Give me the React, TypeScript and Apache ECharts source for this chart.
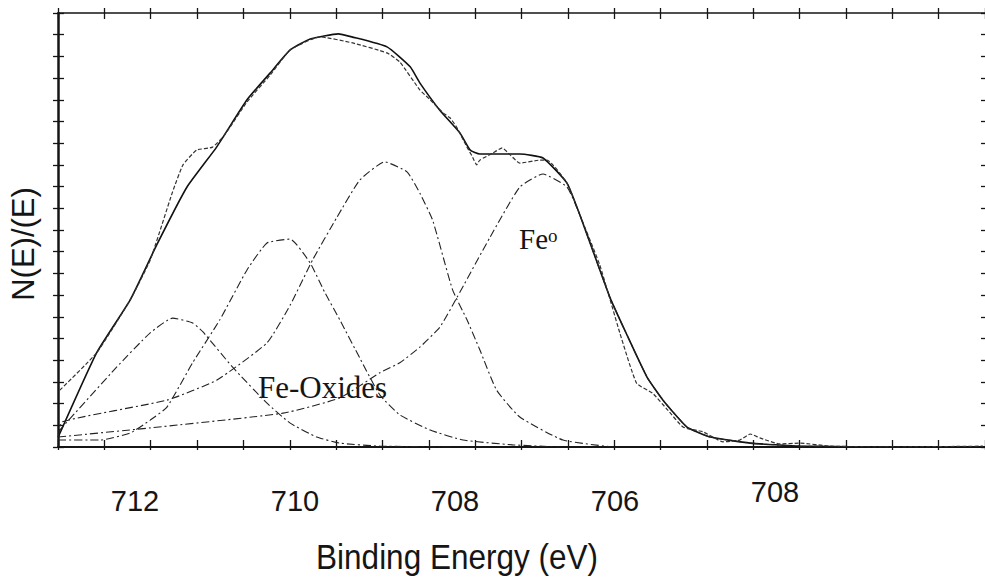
import React, { useEffect, useRef } from 'react';
import * as echarts from 'echarts';

// Axis tick labels (binding energy, eV) as printed on the original figure
const tickValues = [712, 710, 708, 706, 704];
const tickLabels = ['712', '710', '708', '706', '708'];

// Envelope (fitted sum) [eV, intensity]
const fitCurve: [number, number][] = [
  [712.96, 2.3], [712.48, 21.7], [712.06, 33.9], [711.73, 46.5], [711.35, 59.9],
  [710.98, 69.1], [710.6, 80.0], [710.31, 86.2], [710.06, 91.5], [709.81, 94.0],
  [709.46, 95.2], [709.29, 94.5], [708.85, 92.2], [708.56, 87.6], [708.44, 83.9],
  [708.19, 77.6], [707.94, 72.4], [707.81, 68.4], [707.69, 67.5], [707.19, 67.5],
  [706.9, 66.6], [706.6, 60.8], [706.44, 53.5], [706.28, 45.4], [706.06, 34.3],
  [705.85, 25.8], [705.6, 16.1], [705.4, 10.8], [705.1, 4.6], [704.81, 2.3],
  [704.31, 0.9], [703.69, 0.2], [702.44, 0], [701.4, 0],
];

// Measured spectrum
const measured: [number, number][] = [
  [712.94, 13.1], [712.48, 21.7], [712.06, 33.9], [711.81, 43.1], [711.53, 58.8],
  [711.4, 65.0], [711.23, 68.4], [711.03, 69.1], [710.88, 71.9], [710.6, 79.5],
  [710.31, 85.7], [710.06, 91.5], [709.69, 94.5], [709.28, 93.1], [708.85, 90.8],
  [708.69, 88.7], [708.44, 82.3], [708.31, 80.0], [708.15, 77.0], [708.06, 75.8],
  [707.98, 73.7], [707.85, 69.1], [707.78, 66.8], [707.73, 65.0], [707.69, 66.1],
  [707.53, 67.7], [707.41, 68.9], [707.31, 67.3], [707.19, 65.4], [706.94, 66.1],
  [706.85, 66.1], [706.6, 60.8], [706.44, 53.5], [706.19, 41.9], [705.94, 26.3],
  [705.73, 14.7], [705.53, 12.4], [705.34, 8.5], [705.15, 4.6], [704.9, 3.5],
  [704.65, 1.2], [704.44, 1.6], [704.31, 3.0], [704.19, 2.1], [703.94, 0.7],
  [703.69, 0.9], [703.31, 0.2], [702.44, 0], [701.4, 0.2],
];

// Fitted components
const oxidePeakA: [number, number][] = [
  [712.96, 3.5], [712.23, 18.4], [711.81, 26.3], [711.53, 29.7], [711.28, 28.6],
  [711.15, 26.5], [710.78, 18.4], [710.35, 10.1], [710.06, 5.5], [709.73, 2.3],
  [709.44, 0.9], [708.94, 0.2], [708.06, 0],
];
const oxidePeakB: [number, number][] = [
  [712.96, 1.6], [712.44, 1.6], [712.06, 3.2], [711.81, 6.2], [711.6, 9.2],
  [711.28, 19.4], [710.94, 29.3], [710.6, 40.8], [710.35, 47.0], [710.06, 47.9],
  [709.81, 42.4], [709.63, 35.7], [709.44, 29.3], [709.19, 20.5], [708.94, 12.0],
  [708.69, 7.4], [708.31, 3.9], [707.9, 1.6], [707.28, 0.5], [706.69, 0],
];
const oxidePeakC: [number, number][] = [
  [712.96, 2.3], [712.91, 5.8], [711.6, 10.8], [710.98, 15.4], [710.35, 24.0],
  [710.06, 32.7], [709.78, 43.1], [709.48, 52.8], [709.19, 61.5], [708.88, 65.7],
  [708.6, 63.4], [708.44, 58.5], [708.28, 52.3], [708.03, 36.2], [707.85, 29.3],
  [707.69, 22.4], [707.48, 13.1], [707.19, 6.9], [706.65, 1.6], [706.03, 0],
];
const metalPeak: [number, number][] = [
  [712.96, 2.3], [711.81, 4.4], [710.15, 7.8], [709.44, 11.3], [708.94, 17.1],
  [708.69, 19.4], [708.44, 23.0], [708.19, 27.6], [707.98, 34.3], [707.56, 48.4],
  [707.19, 59.9], [706.9, 62.9], [706.6, 59.9], [706.44, 53.5], [706.28, 45.4],
  [706.06, 34.3], [705.85, 25.8], [705.6, 16.1], [705.4, 10.8], [705.1, 4.6],
  [704.81, 2.3], [704.31, 0.9], [703.69, 0.2], [702.44, 0],
];

const SANS = "'Liberation Sans Narrow', 'Arial Narrow', 'Liberation Sans', Arial, sans-serif";
const SERIF = "'Liberation Serif', 'Times New Roman', serif";
const INK = '#151515';

function frameAxis(position: string, inside: boolean, len: number, lineShow: boolean, lineWidth: number, lineColor = INK, lineType: any = 'solid') {
  return {
    type: 'value',
    position,
    min: 0,
    max: 20,
    interval: 1,
    axisLine: { show: lineShow, onZero: false, lineStyle: { color: lineColor, width: lineWidth, type: lineType } },
    axisTick: { show: true, inside, length: len, lineStyle: { color: INK, width: 1.3 } },
    axisLabel: { show: false },
    splitLine: { show: false },
  };
}

function labelAxis(values: number[], margin: number) {
  return {
    type: 'value',
    position: 'bottom',
    min: 701.375,
    max: 712.9625,
    inverse: true,
    axisLine: { show: false, onZero: false },
    axisTick: { show: false },
    splitLine: { show: false },
    axisLabel: {
      show: true,
      customValues: values,
      margin,
      fontSize: 29,
      fontFamily: SANS,
      color: INK,
      formatter: (v: number) => {
        const i = tickValues.indexOf(v);
        return i >= 0 ? tickLabels[i] : '';
      },
    },
  };
}

function lineSeries(name: string, data: [number, number][], width: number, type: any, color: string) {
  return {
    name,
    type: 'line',
    xAxisIndex: 0,
    yAxisIndex: 0,
    data,
    showSymbol: false,
    symbol: 'none',
    smooth: 0.15,
    lineStyle: { color, width, type },
    z: 5,
  };
}

export default function App() {
  const ref = useRef<HTMLDivElement>(null);
  useEffect(() => {
    document.body.style.margin = '0';
    const chart = echarts.init(ref.current!, null, { renderer: 'svg' });
    chart.setOption({
      animation: false,
      backgroundColor: '#ffffff',
      grid: { left: 58, right: 0, top: 13, bottom: 132, containLabel: false },
      xAxis: [
        labelAxis(tickValues.slice(0, 4), 39),
        frameAxis('bottom', true, 7, true, 2),
        frameAxis('bottom', false, 3, false, 1),
        frameAxis('top', true, 6, true, 1.5),
        frameAxis('top', false, 5, false, 1),
        labelAxis(tickValues.slice(4), 30),
      ],
      yAxis: [
        { type: 'value', min: 0, max: 100, show: false },
        frameAxis('left', true, 6, true, 2.5),
        frameAxis('left', false, 5, false, 1),
        frameAxis('right', true, 4, true, 1, '#888', [3, 3]),
      ],
      series: [
        lineSeries('Fit', fitCurve, 1.6, 'solid', '#111'),
        lineSeries('Measured', measured, 1.2, [4, 2], '#333'),
        lineSeries('Oxide A', oxidePeakA, 1.1, [8, 3, 2, 3], '#222'),
        lineSeries('Oxide B', oxidePeakB, 1.1, [8, 3, 2, 3], '#222'),
        lineSeries('Oxide C', oxidePeakC, 1.1, [8, 3, 2, 3], '#222'),
        lineSeries('Fe0', metalPeak, 1.1, [8, 3, 2, 3], '#222'),
      ],
      graphic: [
        {
          type: 'text', x: 23, y: 244, rotation: Math.PI / 2,
          style: { text: 'N(E)/(E)', font: `31px ${SANS}`, fill: INK, align: 'center', verticalAlign: 'middle' },
        },
        {
          type: 'text', x: 457, y: 557, scaleX: 0.9,
          style: { text: 'Binding Energy (eV)', font: `35px ${SANS}`, fill: INK, align: 'center', verticalAlign: 'middle' },
        },
        {
          type: 'text', x: 258, y: 387,
          style: { text: 'Fe-Oxides', font: `31px ${SERIF}`, fill: INK, align: 'left', verticalAlign: 'middle' },
        },
        {
          type: 'text', x: 519, y: 239,
          style: { text: 'Fe', font: `29px ${SERIF}`, fill: INK, align: 'left', verticalAlign: 'middle' },
        },
        {
          type: 'text', x: 548, y: 235,
          style: { text: 'o', font: `19px ${SERIF}`, fill: INK, align: 'left', verticalAlign: 'middle' },
        },
      ],
    });
    return () => chart.dispose();
  }, []);
  return <div ref={ref} style={{ width: 985, height: 579 }} />;
}
